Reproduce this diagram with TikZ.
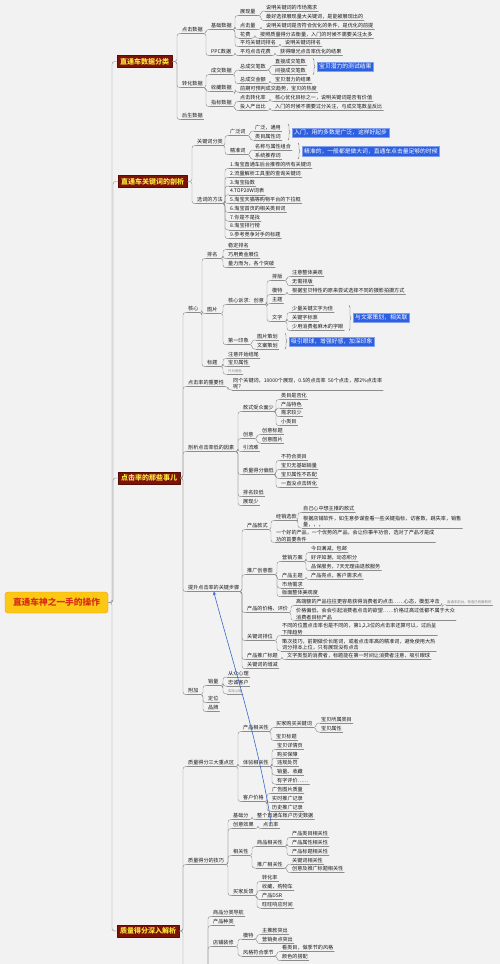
\documentclass[tikz,border=0pt]{standalone}
\usepackage{fontspec}
\setmainfont{Noto Sans CJK SC}
\usetikzlibrary{calc,decorations.pathreplacing}
\definecolor{bgc}{RGB}{242,242,242}
\definecolor{lnc}{RGB}{140,140,140}
\definecolor{txc}{RGB}{25,25,25}
\definecolor{topred}{RGB}{125,18,8}
\definecolor{topyel}{RGB}{250,228,60}
\definecolor{rootfill}{RGB}{252,200,20}
\definecolor{rootbd}{RGB}{235,150,20}
\definecolor{rootred}{RGB}{215,45,20}
\definecolor{hlblue}{RGB}{45,95,225}
\definecolor{linkblue}{RGB}{55,105,200}
\begin{document}
\begin{tikzpicture}[x=1pt,y=-1pt,line join=round,line cap=round,>=stealth]
	\tikzset{
		ul/.style={append after command={(\tikzlastnode.south west) edge[draw=lnc,line width=.35pt] (\tikzlastnode.south east)}},
		lf/.style={anchor=west,inner xsep=1pt,inner ysep=.8pt,text=txc,font=\fontsize{5.1}{6.2}\selectfont,ul},
		leaf/.style={lf,text height=4.1pt,text depth=1pt},
		leafm/.style={lf,align=left},
		note/.style={leaf,text=gray,font=\fontsize{3.4}{4}\selectfont,text height=2.8pt,text depth=.7pt},
		topic/.style={anchor=west,draw=topred!70!black,fill=topred,text=topyel,font=\fontsize{7}{8}\selectfont\bfseries,inner xsep=3pt,inner ysep=2.6pt},
		rootbox/.style={draw=rootbd,fill=rootfill,text=rootred,font=\fontsize{8.7}{10}\selectfont\bfseries,rounded corners=3pt,minimum width=103pt,minimum height=21pt},
		hl/.style={anchor=west,fill=hlblue,draw=hlblue!60!white,text=white,font=\fontsize{5.8}{6.5}\selectfont,inner xsep=2pt,inner ysep=1pt,minimum height=9.5pt},
		conn/.style={draw=lnc,line width=.4pt,rounded corners=2.5pt},
		brc/.style={draw=lnc!70!black,line width=.4pt,decorate,decoration={brace,amplitude=2pt}},
		blink/.style={draw=linkblue,line width=.6pt}
	}
	\fill[bgc] (0,0) rectangle (500,964);
	\useasboundingbox (0,0) rectangle (500,964);
	\node[rootbox] (root) at (56.5,602.5) {直通车神之一手的操作};
	\node[topic] (t1) at (117,61.5) {直通车数据分类};
	\node[topic] (t2) at (118,181.5) {直通车关键词的剖析};
	\node[topic] (t3) at (118,478) {点击率的那些事儿};
	\node[topic] (t4) at (117,931) {质量得分深入解析};
	\node[leaf] (dj) at (181,30) {点击数据};
	\node[leaf] (zh) at (181,84) {转化数据};
	\node[leaf] (hs) at (181,116) {后生数据};
	\node[leaf] (jc) at (210,26) {基础数据};
	\node[leaf] (ppc) at (210,52) {PPC数据};
	\node[leaf] (cj) at (210,71) {成交数据};
	\node[leaf] (sc) at (210,88) {收藏数据};
	\node[leaf] (zb) at (210,103) {指标数据};
	\node[leaf] (zxl) at (239,12) {展现量};
	\node[leaf] (djl) at (239,26) {点击量};
	\node[leaf] (hf) at (239,34.5) {花费};
	\node[leaf] (pjpm) at (239,43) {平均关键词排名};
	\node[leaf] (pjdj) at (239,52) {平均点击花费};
	\node[leaf] (zcb) at (239,66.5) {总成交笔数};
	\node[leaf] (zcj) at (239,80) {总成交金额};
	\node[leaf] (scc) at (239,88.5) {前期可预判成交趋势，宝贝的热度};
	\node[leaf] (djzh) at (239,98) {点击转化率};
	\node[leaf] (trcc) at (239,107) {投入产出比};
	\node[leaf] (a1) at (265,7.5) {说明关键词的市场需求};
	\node[leaf] (a2) at (265,17) {最好选择展现量大关键词，是能被展现出的};
	\node[leaf] (a3) at (265,26) {说明关键词是否符合优化的条件，是优化的前提};
	\node[leaf] (a4) at (259,34.5) {按照质量得分去衡量，入门的时候不需要关注太多};
	\node[leaf] (a5) at (284,43) {说明关键词排名};
	\node[leaf] (a6) at (279,52) {获得曝光点击率优化的结果};
	\node[leaf] (zj) at (274,62) {直接成交笔数};
	\node[leaf] (jj) at (274,71) {间接成交笔数};
	\node[leaf] (zcjc) at (274,80) {宝贝潜力的结果};
	\node[leaf] (djzhc) at (274,98) {核心优化目标之一，说明关键词是否有价值};
	\node[leaf] (trccc) at (274,107) {入门的时候不需要过分关注，与成交笔数呈反比};
	\node[hl] (b1) at (317,66.5) {宝贝潜力的测试结果};
	\node[leaf] (gjfl) at (196,142) {关键词分类};
	\node[leaf] (xcff) at (196,200) {选词的方法};
	\node[leaf] (gfc) at (229,132) {广泛词};
	\node[leaf] (jzc) at (229,151) {精准词};
	\node[leaf] (gf1) at (254,127.5) {广泛，通用};
	\node[leaf] (gf2) at (254,136.5) {类目属性词};
	\node[leaf] (jz1) at (254,146.5) {名称与属性组合};
	\node[leaf] (jz2) at (254,155.5) {系统推荐词};
	\node[hl] (b2) at (292,132.5) {入门，用的多数是广泛，这样好起步};
	\node[hl] (b3) at (302,151) {精准的，一般都是做大词，直通车点击量足够的时候};
	\node[leaf] (m1) at (229,165) {1.淘宝直通车后台推荐的所有关键词};
	\node[leaf] (m2) at (229,173.75) {2.流量解析工具里的查询关键词};
	\node[leaf] (m3) at (229,182.5) {3.淘宝指数};
	\node[leaf] (m4) at (229,191.25) {4.TOP20W词表};
	\node[leaf] (m5) at (229,200) {5.淘宝天猫等购物平台的下拉框};
	\node[leaf] (m6) at (229,208.75) {6.淘宝首页的相关类目词};
	\node[leaf] (m7) at (229,217.5) {7.你是不是找};
	\node[leaf] (m8) at (229,226.25) {8.淘宝排行榜};
	\node[leaf] (m9) at (229,235) {9.参考竞争对手的标题};
	\node[leaf] (hx) at (187,309) {核心};
	\node[leaf] (zyx) at (187,383) {点击率的重要性};
	\node[leaf] (px) at (187,448) {剖析点击率低的因素};
	\node[leaf] (ts) at (187,588) {提升点击率的关键步骤};
	\node[leaf] (fj) at (187,691) {附加};
	\node[leaf] (pm) at (206,255) {排名};
	\node[leaf] (tp) at (206,310) {图片};
	\node[leaf] (bt) at (206,363) {标题};
	\node[leaf] (pm1) at (227,246) {稳定排名};
	\node[leaf] (pm2) at (227,255) {巧用黄金展位};
	\node[leaf] (pm3) at (227,264) {量力而为，各个突破};
	\node[leaf] (hxsq) at (227,301) {核心诉求：创意};
	\node[leaf] (dyyx) at (227,341) {第一印象};
	\node[leaf] (pb) at (271,277) {排版};
	\node[leaf] (mt) at (271,291) {模特};
	\node[leaf] (zt) at (271,300) {主题};
	\node[leaf] (wz) at (271,318) {文字};
	\node[leaf] (pb1) at (291,273) {注意整体美观};
	\node[leaf] (pb2) at (291,282) {无需排版};
	\node[leaf] (mt1) at (291,291) {根据宝贝特性的原来尝试选择不同的摄影拍摄方式};
	\node[leaf] (wz1) at (291,309) {少量关键文字为佳};
	\node[leaf] (wz2) at (291,318) {关键字标准};
	\node[leaf] (wz3) at (291,327) {少用消费者麻木的字眼};
	\node[hl] (b4) at (353,317.5) {与文案策划，相关联};
	\node[leaf] (tpch) at (256,336.5) {图片策划};
	\node[leaf] (wach) at (256,345.5) {文案策划};
	\node[hl] (b5) at (289,341.5) {吸引眼球，增强好感，加深印象};
	\node[leaf] (bt1) at (227,355) {注意开始结尾};
	\node[leaf] (bt2) at (227,363) {宝贝属性};
	\node[note] (bt3) at (227,371.5) {只为用色};
	\node[leafm] (zyx1) at (232,383.5) {同个关键词，10000个展现，0.5的点击率 \ 50个点击，那2\%点击率\\呢？};
	\node[leaf] (kssz) at (242,408) {款式受众面少};
	\node[leaf] (cy) at (242,435) {创意};
	\node[leaf] (yll) at (242,448) {引流难};
	\node[leaf] (zlpd) at (242,471) {质量得分偏低};
	\node[leaf] (pmjd) at (242,493) {排名较低};
	\node[leaf] (zxs) at (242,502) {展现少};
	\node[leaf] (k1) at (280,396) {类目是否化};
	\node[leaf] (k2) at (280,404.5) {产品特色};
	\node[leaf] (k3) at (280,413) {需求较少};
	\node[leaf] (k4) at (280,422) {小类目};
	\node[leaf] (cy1) at (261,431) {创意标题};
	\node[leaf] (cy2) at (261,439.5) {创意图片};
	\node[leaf] (q1) at (280,457) {不符合类目};
	\node[leaf] (q2) at (280,466) {宝贝无基础销量};
	\node[leaf] (q3) at (280,475) {宝贝属性不匹配};
	\node[leaf] (q4) at (280,484) {一直没点击转化};
	\node[leaf] (cpks) at (246,526) {产品款式};
	\node[leaf] (tgcy) at (246,571) {推广创意图};
	\node[leaf] (jgpj) at (246,609) {产品的价格、评价};
	\node[leaf] (gjcpw) at (246,637) {关键词排位};
	\node[leaf] (tgbt) at (246,656) {产品推广标题};
	\node[leaf] (gjzj) at (246,665) {关键词的增减};
	\node[leaf] (jxxk) at (275,517) {经销选款};
	\node[leafm] (cpks2) at (275,536) {一个好的产品，一个优势的产品，会让你事半功倍，选对了产品才是成\\功的首要条件};
	\node[leaf] (jx1) at (302,509) {自己心中想主推的款式};
	\node[leafm] (jx2) at (302,521.5) {根据店铺软件，如生意参谋查看一些关键指标，访客数，跳失率，销售\\量，，，};
	\node[leaf] (yxfa) at (281,558) {营销方案};
	\node[leaf] (cpzt) at (281,576) {产品主题};
	\node[leaf] (scxq) at (281,584.5) {市场需求};
	\node[leaf] (bmmg) at (281,593) {版面整体美观度};
	\node[leaf] (yx1) at (310,549) {今日满减，包邮};
	\node[leaf] (yx2) at (310,558) {好评如潮，动态积分};
	\node[leaf] (yx3) at (310,567) {品保服务，7天无理由退款服务};
	\node[leaf] (cpzt1) at (310,576) {产品亮点，客户需求点};
	\node[leaf] (jg1) at (295,602) {高端额的产品往往更容易获得消费者的点击……心态，模型冲击};
	\node[leafm] (jg2) at (295,614) {价格偏低，会会引起消费者点击的欲望……价格过高过低都不属于大众\\消费者目标产品};
	\node[note] (jg1t) at (446,602) {直通车前台，检查已有复制的};
	\node[leafm] (pw1) at (281,629) {不同的位置点击率也是不同的，第1,2,3位的点击率还算可以，过后呈\\下降趋势};
	\node[leafm] (pw2) at (281,644.5) {策次技巧，前期做价长尾词，或者点击率高的精准词，避免使用大热\\词分排本上位，只有展现没有点击};
	\node[leaf] (tgbt1) at (286,656) {文字类型的消费者，标题能在第一时间让消费者注意，吸引眼球};
	\node[leaf] (xl) at (207,682) {销量};
	\node[leaf] (dw) at (207,699) {定位};
	\node[leaf] (pp) at (207,708) {品牌};
	\node[leaf] (xl1) at (227,673.5) {从众心理};
	\node[leaf] (xl2) at (227,682.5) {忠诚客户};
	\node[note] (xl3) at (227,691) {实际心理};
	\node[leaf] (zlsd) at (187,763) {质量得分三大重点区};
	\node[leaf] (zljq) at (187,861) {质量得分的技巧};
	\node[leaf] (cpxg) at (242,728) {产品相关性};
	\node[leaf] (tyxg) at (242,763) {体验相关性};
	\node[leaf] (khjg) at (242,798) {客户价格};
	\node[leaf] (gmgjc) at (275,724) {买家购买关键词};
	\node[leaf] (bbbt) at (275,737) {宝贝标题};
	\node[leaf] (g1) at (320,719.5) {宝贝所属类目};
	\node[leaf] (g2) at (320,728.5) {宝贝属性};
	\node[leaf] (ty1) at (276,746) {宝贝详情页};
	\node[leaf] (ty2) at (276,754.5) {购买保障};
	\node[leaf] (ty3) at (276,763) {违规处罚};
	\node[leaf] (ty4) at (276,771.5) {销量、收藏};
	\node[leaf] (ty5) at (276,780.5) {有字评价……};
	\node[leaf] (kh1) at (271,790) {广告图片质量};
	\node[leaf] (kh2) at (271,799) {实时推广记录};
	\node[leaf] (kh3) at (271,807.5) {历史推广记录};
	\node[leaf] (jcf) at (232,816) {基础分};
	\node[leaf] (cyxg) at (232,825) {创意效果};
	\node[leaf] (xgx) at (232,852) {相关性};
	\node[leaf] (mjfk) at (232,892) {买家反馈};
	\node[leaf] (jcf1) at (256,816) {整个直通车账户历史数据};
	\node[leaf] (djl2) at (262,825) {点击率};
	\node[leaf] (spxg) at (256,843) {商品相关性};
	\node[leaf] (tgxg) at (256,864.5) {推广相关性};
	\node[leaf] (sp1) at (291,834) {产品类目相关性};
	\node[leaf] (sp2) at (291,843) {产品属性相关性};
	\node[leaf] (sp3) at (291,852) {产品标题相关性};
	\node[leaf] (tg1) at (291,860.5) {关键词相关性};
	\node[leaf] (tg2) at (291,869) {创意及推广标题相关性};
	\node[leaf] (mj1) at (261,878) {转化率};
	\node[leaf] (mj2) at (261,887) {收藏，购物车};
	\node[leaf] (mj3) at (261,896) {产品DSR};
	\node[leaf] (mj4) at (261,904.5) {旺旺响应时间};
	\node[leaf] (spfl) at (212,913) {商品分类导航};
	\node[leaf] (cpzl) at (212,922) {产品种类};
	\node[leaf] (dpzx) at (212,943) {店铺装修};
	\node[leaf] (mt2) at (242,935.5) {模特};
	\node[leaf] (fg) at (242,952.5) {风格符合季节};
	\node[leaf] (mt21) at (261,931) {主推款突出};
	\node[leaf] (mt22) at (261,940) {营销卖点突出};
	\node[leaf] (fg1) at (281,948) {看类目，做季节的风格};
	\node[leaf] (fg2) at (281,957) {颜色的搭配};
	\coordinate (hid) at (187,980);
	\foreach \t in {t1,t2,t3,t4}
	\draw[conn] (root.east) -- ($(root.east -| \t.west)+(-5,0)$) |- (\t.west);
	\foreach \t/\c in {t1/dj,t1/zh,t1/hs,t2/gjfl,t2/xcff,t3/hx,t3/zyx,t3/px,t3/ts,t3/fj,t4/zlsd,t4/zljq}
	\draw[conn] (\t.east) -- ($(\t.east -| \c.south west)+(-4,0)$) |- (\c.south west);
	\draw[conn] (t4.east) -- ($(t4.east -| hid)+(-4,0)$) |- (hid);
	\foreach \c in {spfl,cpzl,dpzx}
	\draw[conn] (hid) -- ($(hid -| \c.south west)+(-4,0)$) |- (\c.south west);
	\foreach \i in {1,...,9}
	\draw[conn] (xcff.south east) -- ($(xcff.south east -| m\i.south west)+(-4,0)$) |- (m\i.south west);
	\foreach \p/\c in {dj/jc,dj/ppc,jc/zxl,jc/djl,jc/hf,jc/pjpm,zxl/a1,zxl/a2,djl/a3,hf/a4,pjpm/a5,ppc/pjdj,pjdj/a6,
		zh/cj,zh/sc,zh/zb,cj/zcb,cj/zcj,zcb/zj,zcb/jj,zcj/zcjc,sc/scc,zb/djzh,zb/trcc,djzh/djzhc,trcc/trccc,
		gjfl/gfc,gjfl/jzc,gfc/gf1,gfc/gf2,jzc/jz1,jzc/jz2,
		hx/pm,hx/tp,hx/bt,pm/pm1,pm/pm2,pm/pm3,tp/hxsq,tp/dyyx,hxsq/pb,hxsq/mt,hxsq/zt,hxsq/wz,pb/pb1,pb/pb2,mt/mt1,
		wz/wz1,wz/wz2,wz/wz3,dyyx/tpch,dyyx/wach,bt/bt1,bt/bt2,bt/bt3,zyx/zyx1,
		px/kssz,px/cy,px/yll,px/zlpd,px/pmjd,px/zxs,kssz/k1,kssz/k2,kssz/k3,kssz/k4,cy/cy1,cy/cy2,zlpd/q1,zlpd/q2,zlpd/q3,zlpd/q4,
		ts/cpks,ts/tgcy,ts/jgpj,ts/gjcpw,ts/tgbt,ts/gjzj,cpks/jxxk,cpks/cpks2,jxxk/jx1,jxxk/jx2,
		tgcy/yxfa,tgcy/cpzt,tgcy/scxq,tgcy/bmmg,yxfa/yx1,yxfa/yx2,yxfa/yx3,cpzt/cpzt1,
		jgpj/jg1,jgpj/jg2,jg1/jg1t,gjcpw/pw1,gjcpw/pw2,tgbt/tgbt1,fj/xl,fj/dw,fj/pp,xl/xl1,xl/xl2,xl/xl3,
		zlsd/cpxg,zlsd/tyxg,zlsd/khjg,cpxg/gmgjc,cpxg/bbbt,gmgjc/g1,gmgjc/g2,
		tyxg/ty1,tyxg/ty2,tyxg/ty3,tyxg/ty4,tyxg/ty5,khjg/kh1,khjg/kh2,khjg/kh3,
		zljq/jcf,zljq/cyxg,zljq/xgx,zljq/mjfk,jcf/jcf1,cyxg/djl2,xgx/spxg,xgx/tgxg,
		spxg/sp1,spxg/sp2,spxg/sp3,tgxg/tg1,tgxg/tg2,mjfk/mj1,mjfk/mj2,mjfk/mj3,mjfk/mj4,
		dpzx/mt2,dpzx/fg,mt2/mt21,mt2/mt22,fg/fg1,fg/fg2}
	\draw[conn] (\p.south east) -- ($(\p.south east -| \c.south west)+(-4,0)$) |- (\c.south west);
	\draw[brc] ($(b1.west |- zj.north)+(-4,0)$) -- ($(b1.west |- jj.south)+(-4,0)$);
	\draw[brc] ($(b2.west |- gf1.north)+(-4,0)$) -- ($(b2.west |- gf2.south)+(-4,0)$);
	\draw[brc] ($(b3.west |- jz1.north)+(-4,0)$) -- ($(b3.west |- jz2.south)+(-4,0)$);
	\draw[brc] ($(b4.west |- wz1.north)+(-4,0)$) -- ($(b4.west |- wz3.south)+(-4,0)$);
	\draw[brc] ($(b5.west |- tpch.north)+(-4,0)$) -- ($(b5.west |- wach.south)+(-4,0)$);
	\draw[blink,->] (djl2.north) .. controls (258,740) and (232,660) .. (ts.south);
\end{tikzpicture}
\end{document}
